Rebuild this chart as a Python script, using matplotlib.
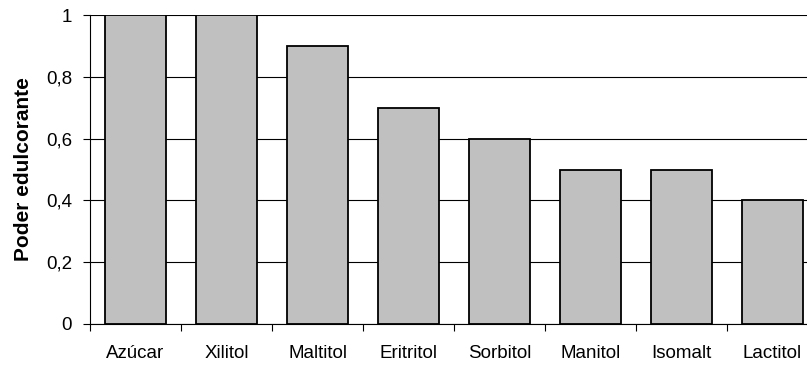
import matplotlib.pyplot as plt
import numpy as np

plt.rcParams['font.family'] = ['Liberation Sans', 'DejaVu Sans']

edulcorantes = ["Azúcar", "Xilitol", "Maltitol", "Eritritol", "Sorbitol",
                "Manitol", "Isomalt", "Lactitol"]
poder = [1.0, 1.0, 0.9, 0.7, 0.6, 0.5, 0.5, 0.4]
y_ticks = [0, 0.2, 0.4, 0.6, 0.8, 1.0]
y_labels = ["0", "0,2", "0,4", "0,6", "0,8", "1"]

fig = plt.figure(figsize=(8.07, 3.65), dpi=100)
# the plot area runs a bit past the right edge of the figure
ax = fig.add_axes([90 / 807, 41 / 365, 728 / 807, 309 / 365])

x = np.arange(len(edulcorantes))
ax.bar(x, poder, width=0.68, color='#c0c0c0', edgecolor='black',
       linewidth=1.3, zorder=3)

ax.set_xlim(-0.5, len(edulcorantes) - 0.5)
ax.set_ylim(0, 1)
ax.set_yticks(y_ticks)
ax.set_yticklabels(y_labels, fontsize=13.5)
ax.yaxis.grid(True, color='black', linewidth=0.8, zorder=0)

ax.set_xticks(x)
ax.set_xticklabels(edulcorantes, fontsize=13.5)
ax.tick_params(axis='x', which='major', length=0, pad=15)
ax.set_xticks(np.arange(-0.5, len(edulcorantes), 1), minor=True)
ax.tick_params(axis='x', which='minor', length=5, width=0.8, direction='out')
ax.tick_params(axis='y', length=5, width=0.8, direction='out', pad=8)

for side in ['top', 'right']:
    ax.spines[side].set_visible(False)
for side in ['left', 'bottom']:
    ax.spines[side].set_linewidth(0.8)

ax.set_ylabel("Poder edulcorante", fontsize=15, fontweight='bold', labelpad=9)

fig.savefig("out.png", dpi=100)
